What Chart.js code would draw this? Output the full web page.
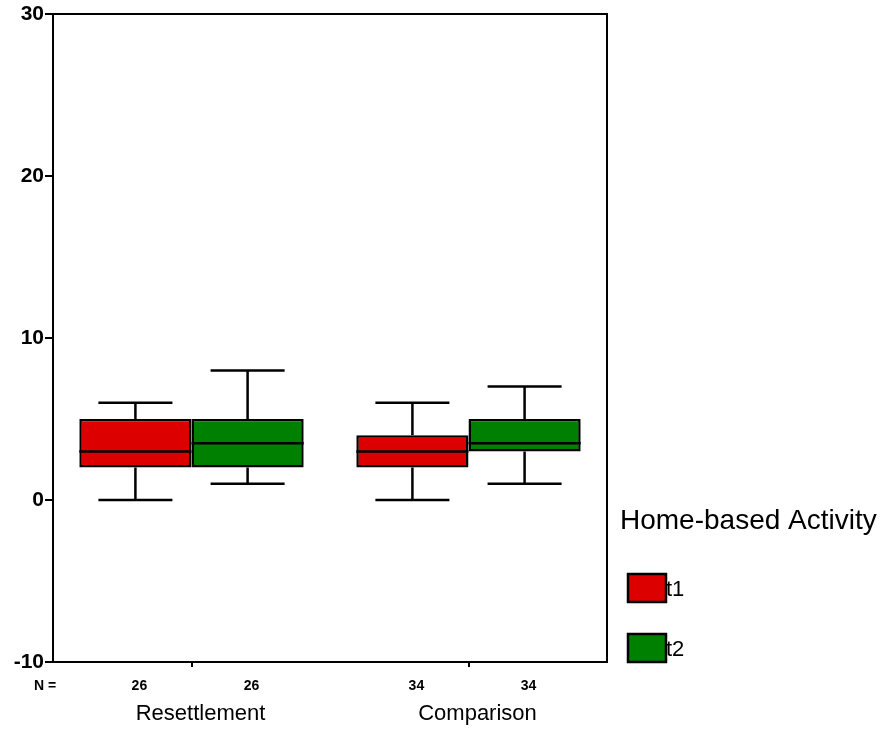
<!DOCTYPE html>
<html>
<head>
<meta charset="utf-8">
<script src="https://cdn.jsdelivr.net/npm/chart.js@4"></script>
<style>
  html, body { margin: 0; padding: 0; background: #fff; }
  #wrap { width: 891px; height: 730px; position: relative; }
</style>
</head>
<body>
<div id="wrap"><canvas id="chart"></canvas></div>
<script>
// groups and series
const groups = ['Resettlement', 'Comparison'];
const seriesNames = ['t1', 't2'];
const seriesColors = ['#dc0000', '#008000'];

// box plot values per series (one per group)
const t1Min = [0, 0];
const t1Q1 = [2, 2];
const t1Median = [3, 3];
const t1Q3 = [5, 4];
const t1Max = [6, 6];
const t1N = [26, 34];

const t2Min = [1, 1];
const t2Q1 = [2, 3];
const t2Median = [3.5, 3.5];
const t2Q3 = [5, 5];
const t2Max = [8, 7];
const t2N = [26, 34];

const yTicks = [-10, 0, 10, 20, 30];
const legendTitle = 'Home-based Activity';

const stats = [
  { min: t1Min, q1: t1Q1, med: t1Median, q3: t1Q3, max: t1Max, n: t1N },
  { min: t2Min, q1: t2Q1, med: t2Median, q3: t2Q3, max: t2Max, n: t2N }
];

const font = '"Liberation Sans", Arial, sans-serif';

// draws whiskers, medians, frame, N labels and legend
const boxPlotPlugin = {
  id: 'boxPlot',
  afterDatasetsDraw(chart) {
    const ctx = chart.ctx;
    const y = chart.scales.y;
    ctx.save();
    ctx.strokeStyle = '#000';
    ctx.lineWidth = 2.5;
    stats.forEach((s, di) => {
      const meta = chart.getDatasetMeta(di);
      meta.data.forEach((bar, i) => {
        const cx = bar.x;
        const half = bar.width / 2;
        const cap = bar.width * 0.33;
        const pMin = y.getPixelForValue(s.min[i]);
        const pMax = y.getPixelForValue(s.max[i]);
        const pQ1 = y.getPixelForValue(s.q1[i]);
        const pQ3 = y.getPixelForValue(s.q3[i]);
        const pMed = y.getPixelForValue(s.med[i]);
        ctx.beginPath();
        // whiskers
        ctx.moveTo(cx, pQ3); ctx.lineTo(cx, pMax);
        ctx.moveTo(cx - cap, pMax); ctx.lineTo(cx + cap, pMax);
        ctx.moveTo(cx, pQ1); ctx.lineTo(cx, pMin);
        ctx.moveTo(cx - cap, pMin); ctx.lineTo(cx + cap, pMin);
        // median
        ctx.moveTo(cx - half, pMed); ctx.lineTo(cx + half, pMed);
        ctx.stroke();
      });
    });
    ctx.restore();
  },
  afterDraw(chart) {
    const ctx = chart.ctx;
    const a = chart.chartArea;
    ctx.save();
    // frame top and right
    ctx.strokeStyle = '#000';
    ctx.lineWidth = 2;
    ctx.beginPath();
    ctx.moveTo(a.left, a.top);
    ctx.lineTo(a.right, a.top);
    ctx.lineTo(a.right, a.bottom);
    ctx.stroke();

    // N labels
    ctx.fillStyle = '#000';
    ctx.font = 'bold 14px ' + font;
    ctx.textAlign = 'center';
    ctx.textBaseline = 'middle';
    ctx.fillText('N =', 45, 686);
    stats.forEach((s, di) => {
      const meta = chart.getDatasetMeta(di);
      meta.data.forEach((bar, i) => {
        ctx.fillText(String(s.n[i]), bar.x + 4, 686);
      });
    });

    // legend
    ctx.textAlign = 'left';
    ctx.textBaseline = 'alphabetic';
    ctx.font = '28px ' + font;
    ctx.fillText(legendTitle, 620, 529);
    ctx.font = '22px ' + font;
    ctx.textBaseline = 'middle';
    seriesNames.forEach((name, i) => {
      const top = 574 + i * 60;
      ctx.fillStyle = seriesColors[i];
      ctx.fillRect(628, top, 38, 28);
      ctx.strokeStyle = '#000';
      ctx.lineWidth = 2.5;
      ctx.strokeRect(628, top, 38, 28);
      ctx.fillStyle = '#000';
      ctx.fillText(name, 666, top + 16);
    });
    ctx.restore();
  }
};

new Chart(document.getElementById('chart'), {
  type: 'bar',
  data: {
    labels: groups,
    datasets: stats.map((s, di) => ({
      label: seriesNames[di],
      data: s.q1.map((v, i) => [v, s.q3[i]]),
      backgroundColor: seriesColors[di],
      borderColor: '#000',
      borderWidth: 2.5,
      borderSkipped: false,
      categoryPercentage: 0.81,
      barPercentage: 1
    }))
  },
  options: {
    responsive: true,
    maintainAspectRatio: false,
    animation: false,
    layout: { padding: { left: 0, top: 14, right: 284, bottom: 0 } },
    plugins: {
      legend: { display: false },
      tooltip: { enabled: false }
    },
    scales: {
      x: {
        grid: { display: true, drawOnChartArea: false, offset: false, color: '#000', lineWidth: 2, tickLength: 5 },
        border: { display: true, color: '#000', width: 2 },
        ticks: { color: '#000', font: { family: font, size: 22 }, padding: 34, labelOffset: 9, maxRotation: 0 },
        afterFit(scale) { scale.height = 68; }
      },
      y: {
        min: -10,
        max: 30,
        afterBuildTicks(scale) { scale.ticks = yTicks.map(v => ({ value: v })); },
        grid: { display: true, drawOnChartArea: false, color: '#000', lineWidth: 2, tickLength: 8 },
        border: { display: true, color: '#000', width: 2 },
        ticks: { color: '#000', font: { family: font, size: 21, weight: 'bold' }, padding: 1 },
        afterFit(scale) { scale.width = 53; }
      }
    }
  },
  plugins: [boxPlotPlugin]
});
</script>
</body>
</html>
